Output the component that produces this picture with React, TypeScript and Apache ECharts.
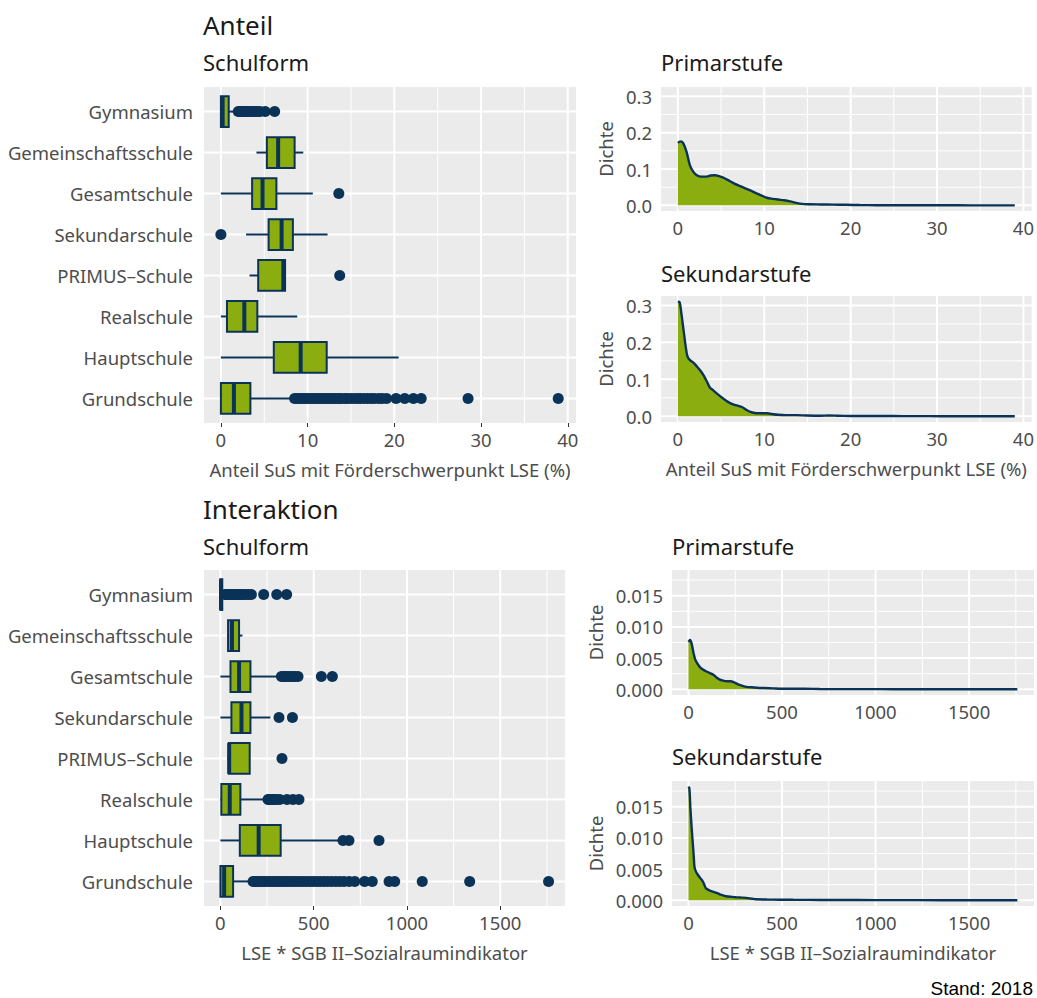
import React, { useEffect, useRef } from 'react';
import * as echarts from 'echarts';

const GREEN = '#8CAD10';
const NAVY = '#0B3358';
const PANEL = '#EBEBEB';
const LABEL = '#4D4D4D';
const FONT = "'Noto Sans', sans-serif";

// ---------- data ----------
const categories = ['Gymnasium', 'Gemeinschaftsschule', 'Gesamtschule', 'Sekundarschule', 'PRIMUS–Schule', 'Realschule', 'Hauptschule', 'Grundschule'];

// [lower whisker, Q1, median, Q3, upper whisker]  (Anteil, %)
const anteilBoxStats = [
  [0, 0, 0.2, 0.9, 1.7],
  [4.1, 5.3, 6.6, 8.5, 9.5],
  [0, 3.6, 4.8, 6.4, 10.6],
  [2.9, 5.5, 7.0, 8.3, 12.3],
  [3.3, 4.3, 7.2, 7.4, 7.4],
  [0, 0.7, 2.7, 4.2, 8.8],
  [0, 6.1, 9.2, 12.2, 20.5],
  [0, 0, 1.5, 3.4, 8.0],
];
const anteilOutliers = [
  [2.0, 2.2, 2.4, 2.6, 2.8, 3.0, 3.2, 3.4, 3.7, 3.9, 4.2, 4.5, 5.1, 6.2],
  [],
  [13.6],
  [0],
  [13.7],
  [],
  [],
  [8.5, 8.8, 9.1, 9.4, 9.7, 10.0, 10.3, 10.6, 10.9, 11.2, 11.5, 11.8, 12.1, 12.4, 12.7, 13.0, 13.3, 13.6, 13.9, 14.3, 14.6, 15.0, 15.4, 15.8, 16.1, 16.5, 16.9, 17.3, 17.7, 18.2, 18.6, 19.1, 20.2, 21.2, 22.2, 23.1, 28.5, 38.9],
];

// Interaktion: LSE * SGB II-Sozialraumindikator
const interBoxStats = [
  [0, 0, 3, 10, 24],
  [36, 41, 62, 100, 118],
  [0, 54, 100, 161, 318],
  [0, 59, 113, 161, 268],
  [36, 45, 47, 157, 157],
  [0, 5, 50, 107, 246],
  [0, 104, 205, 323, 639],
  [0, 0, 20, 68, 157],
];
const interOutliers = [
  [25, 32, 40, 48, 56, 64, 72, 80, 90, 100, 110, 122, 135, 150, 166, 232, 302, 355],
  [],
  [327, 338, 350, 362, 375, 388, 400, 416, 541, 600],
  [314, 386],
  [330],
  [255, 262, 270, 280, 290, 300, 318, 357, 389, 421],
  [657, 689, 850],
  [175, 186, 198, 210, 222, 236, 250, 264, 278, 292, 306, 320, 335, 350, 365, 380, 396, 412, 428, 445, 462, 480, 498, 516, 535, 555, 575, 596, 618, 640, 662, 690, 720, 773, 814, 904, 934, 1082, 1336, 1759],
];

// density curves [x, density]
const densAnteilPrimar = [[0, 0.172], [0.3, 0.176], [0.6, 0.172], [1.0, 0.148], [1.4, 0.11], [1.8, 0.092], [2.2, 0.083], [2.7, 0.079], [3.2, 0.079], [3.8, 0.082], [4.3, 0.083], [4.8, 0.08], [5.3, 0.076], [6.0, 0.067], [6.6, 0.059], [7.2, 0.053], [7.8, 0.047], [8.5, 0.04], [9.1, 0.033], [9.7, 0.027], [10.3, 0.021], [11.0, 0.018], [11.6, 0.016], [12.3, 0.014], [13.0, 0.011], [13.7, 0.007], [14.4, 0.004], [15.2, 0.003], [16.5, 0.0025], [18, 0.002], [19.5, 0.0015], [21, 0.0008], [23, 0.0005], [25, 0.0003], [28, 0.0003], [31, 0.0002], [34, 0.0001], [37, 0.0001], [39, 0.0001]];
const densAnteilSek = [[0, 0.31], [0.2, 0.309], [0.4, 0.28], [0.65, 0.235], [0.9, 0.19], [1.1, 0.163], [1.4, 0.152], [1.8, 0.145], [2.2, 0.135], [2.6, 0.124], [3.0, 0.11], [3.4, 0.092], [3.7, 0.078], [4.1, 0.07], [4.6, 0.06], [5.2, 0.049], [5.8, 0.039], [6.4, 0.032], [7.0, 0.028], [7.4, 0.025], [7.9, 0.018], [8.4, 0.012], [8.9, 0.009], [9.5, 0.008], [10.3, 0.008], [10.9, 0.006], [11.6, 0.004], [12.5, 0.003], [13.7, 0.003], [15, 0.002], [16.5, 0.0015], [17.5, 0.002], [18.5, 0.0015], [20, 0.0008], [22, 0.0006], [24, 0.0008], [26, 0.0004], [29, 0.0003], [32, 0.0002], [35, 0.0001], [39, 0.0001]];
const densInterPrimar = [[0, 0.0076], [9, 0.0079], [18, 0.0072], [27, 0.0058], [36, 0.0048], [48, 0.0041], [60, 0.0036], [75, 0.0032], [94, 0.0029], [115, 0.0026], [135, 0.0023], [150, 0.0019], [165, 0.0016], [185, 0.0014], [205, 0.0013], [225, 0.0013], [245, 0.0011], [265, 0.0008], [285, 0.0006], [310, 0.0004], [350, 0.0003], [400, 0.0002], [450, 0.00015], [500, 0.0001], [560, 0.00008], [620, 0.0001], [700, 0.00005], [800, 0.00003], [950, 0.00003], [1100, 0.00002], [1350, 0.00002], [1550, 0.00001], [1758, 0.00001]];
const densInterSek = [[0, 0.0182], [5, 0.0179], [10, 0.015], [14, 0.013], [19, 0.0108], [23, 0.0092], [28, 0.0072], [32, 0.0054], [40, 0.0046], [50, 0.0041], [62, 0.0036], [77, 0.003], [86, 0.0024], [94, 0.0019], [112, 0.0016], [130, 0.0014], [150, 0.0012], [165, 0.001], [185, 0.0008], [201, 0.00065], [230, 0.00055], [254, 0.0005], [280, 0.00045], [308, 0.0004], [340, 0.00025], [361, 0.00016], [420, 0.00012], [486, 0.0001], [560, 0.00008], [650, 0.00007], [750, 0.00005], [900, 0.00004], [1100, 0.00003], [1350, 0.00002], [1600, 0.00001], [1758, 0.00001]];

// ticks
const anteilXMajor = [0, 10, 20, 30, 40];
const anteilXMinor = [5, 15, 25, 35];
const interXMajor = [0, 500, 1000, 1500];
const interXMinor = [250, 750, 1250, 1750];
const densAnteilYMajor = [0, 0.1, 0.2, 0.3];
const densAnteilYMinor = [0.05, 0.15, 0.25];
const densInterYMajor = [0, 0.005, 0.01, 0.015];
const densInterYMinor = [0.0025, 0.0075, 0.0125, 0.0175];
const catPositions = categories.map((_, i) => i + 1);

const X_TITLE_ANTEIL = 'Anteil SuS mit Förderschwerpunkt LSE (%)';
const X_TITLE_INTER = 'LSE * SGB II–Sozialraumindikator';

function expand(lo: number, hi: number) {
  const p = (hi - lo) * 0.05;
  return [lo - p, hi + p];
}

export default function App() {
  const ref = useRef<HTMLDivElement>(null);
  useEffect(() => {
    document.body.style.margin = '0';
    const chart = echarts.init(ref.current!, null, { renderer: 'svg' });

    const allAnteil = anteilBoxStats.flat().concat(anteilOutliers.flat()).concat(densAnteilPrimar.map(d => d[0]));
    const [axMin, axMax] = expand(Math.min(...allAnteil), Math.max(...allAnteil));
    const allInter = interBoxStats.flat().concat(interOutliers.flat());
    const [ixMin, ixMax] = expand(Math.min(...allInter), Math.max(...allInter));
    const [adMin, adMax] = expand(0, Math.max(...densAnteilPrimar.map(d => d[1]), ...densAnteilSek.map(d => d[1])));
    const [idMin, idMax] = expand(0, Math.max(...densInterPrimar.map(d => d[1]), ...densInterSek.map(d => d[1])));

    const grids = [
      { left: 204, top: 87, width: 372, height: 336 },
      { left: 661, top: 87, width: 373, height: 124 },
      { left: 661, top: 296, width: 373, height: 126 },
      { left: 204, top: 570, width: 361, height: 336 },
      { left: 672, top: 570, width: 362, height: 125 },
      { left: 672, top: 781, width: 362, height: 125 },
    ].map(g => ({ ...g, show: true, backgroundColor: PANEL, borderWidth: 0, containLabel: false }));

    const tick = { show: true, length: 4, lineStyle: { color: '#333', width: 1 } };
    const label = { color: LABEL, fontSize: 18.5, fontFamily: FONT };
    const nameStyle = { color: LABEL, fontSize: 18.5, fontFamily: FONT };

    const xAxis = (gi: number, min: number, max: number, ticks: number[], name?: string) => ({
      gridIndex: gi, type: 'value', min, max,
      axisLine: { show: false }, splitLine: { show: false },
      axisTick: { ...tick, customValues: ticks },
      axisLabel: { ...label, margin: 7, customValues: ticks, formatter: (v: number) => String(v) },
      name: name || '', nameLocation: 'middle', nameGap: 37, nameTextStyle: nameStyle,
    });
    const yCat = (gi: number) => ({
      gridIndex: gi, type: 'value', min: 0.4, max: categories.length + 0.6, inverse: true,
      axisLine: { show: false }, splitLine: { show: false },
      axisTick: { ...tick, customValues: catPositions },
      axisLabel: { ...label, margin: 11, customValues: catPositions, formatter: (v: number) => categories[Math.round(v) - 1] },
    });
    const yDens = (gi: number, min: number, max: number, ticks: number[], digits: number, gap: number) => ({
      gridIndex: gi, type: 'value', min, max,
      axisLine: { show: false }, splitLine: { show: false },
      axisTick: { ...tick, customValues: ticks },
      axisLabel: { ...label, margin: 9, customValues: ticks, formatter: (v: number) => v.toFixed(digits) },
      name: 'Dichte', nameLocation: 'middle', nameGap: gap, nameTextStyle: nameStyle,
    });

    const gridLines = (gi: number, xMaj: number[], xMin: number[], yMaj: number[], yMin: number[]) => ({
      type: 'custom', xAxisIndex: gi, yAxisIndex: gi, z: 1, silent: true,
      data: [
        ...xMin.map(v => [v, 0, 0]), ...yMin.map(v => [v, 1, 0]),
        ...xMaj.map(v => [v, 0, 1]), ...yMaj.map(v => [v, 1, 1]),
      ],
      encode: { x: 0, y: 1 },
      renderItem: (params: any, api: any) => {
        const v = api.value(0), dir = api.value(1), major = api.value(2);
        const cs = params.coordSys;
        const style = { stroke: '#FFFFFF', lineWidth: major ? 2 : 1 };
        if (dir === 0) {
          const x = api.coord([v, 0])[0];
          return { type: 'line', shape: { x1: x, y1: cs.y, x2: x, y2: cs.y + cs.height }, style };
        }
        const y = api.coord([0, v])[1];
        return { type: 'line', shape: { x1: cs.x, y1: y, x2: cs.x + cs.width, y2: y }, style };
      },
    });

    const boxSeries = (gi: number, stats: number[][]) => ({
      type: 'custom', xAxisIndex: gi, yAxisIndex: gi, z: 3,
      data: stats.map((s, i) => [...s, i + 1]),
      encode: { x: [0, 1, 2, 3, 4], y: 5 },
      renderItem: (params: any, api: any) => {
        const idx = api.value(5);
        const pLow = api.coord([api.value(0), idx]);
        const pQ1 = api.coord([api.value(1), idx]);
        const pMed = api.coord([api.value(2), idx]);
        const pQ3 = api.coord([api.value(3), idx]);
        const pHigh = api.coord([api.value(4), idx]);
        const h = api.size([0, 0.75])[1];
        const y = pLow[1];
        const ls = { stroke: NAVY, lineWidth: 2 };
        return {
          type: 'group',
          children: [
            { type: 'line', shape: { x1: pLow[0], y1: y, x2: pQ1[0], y2: y }, style: ls },
            { type: 'line', shape: { x1: pQ3[0], y1: y, x2: pHigh[0], y2: y }, style: ls },
            { type: 'rect', shape: { x: pQ1[0], y: y - h / 2, width: pQ3[0] - pQ1[0], height: h }, style: { fill: GREEN, stroke: NAVY, lineWidth: 2 } },
            { type: 'line', shape: { x1: pMed[0], y1: y - h / 2, x2: pMed[0], y2: y + h / 2 }, style: { stroke: NAVY, lineWidth: 4 } },
          ],
        };
      },
    });

    const outlierSeries = (gi: number, outs: number[][]) => ({
      type: 'scatter', xAxisIndex: gi, yAxisIndex: gi, z: 4,
      symbolSize: 11, itemStyle: { color: NAVY, opacity: 1 },
      data: outs.flatMap((arr, i) => arr.map(v => [v, i + 1])),
    });

    const densSeries = (gi: number, data: number[][]) => ({
      type: 'line', xAxisIndex: gi, yAxisIndex: gi, z: 3,
      data, showSymbol: false, smooth: 0.3,
      lineStyle: { color: NAVY, width: 2.4 },
      areaStyle: { color: GREEN, opacity: 1 },
    });

    const txt = (text: string, x: number, y: number, size: number, extra: any = {}) => ({
      type: 'text', x, y,
      style: { text, fontSize: size, fontFamily: FONT, fill: '#1A1A1A', verticalAlign: 'middle', align: 'left', ...extra },
    });

    chart.setOption({
      animation: false,
      backgroundColor: '#FFFFFF',
      grid: grids,
      xAxis: [
        xAxis(0, axMin, axMax, anteilXMajor, X_TITLE_ANTEIL),
        xAxis(1, axMin, axMax, anteilXMajor),
        xAxis(2, axMin, axMax, anteilXMajor, X_TITLE_ANTEIL),
        xAxis(3, ixMin, ixMax, interXMajor, X_TITLE_INTER),
        xAxis(4, ixMin, ixMax, interXMajor),
        xAxis(5, ixMin, ixMax, interXMajor, X_TITLE_INTER),
      ],
      yAxis: [
        yCat(0),
        yDens(1, adMin, adMax, densAnteilYMajor, 1, 46),
        yDens(2, adMin, adMax, densAnteilYMajor, 1, 46),
        yCat(3),
        yDens(4, idMin, idMax, densInterYMajor, 3, 67),
        yDens(5, idMin, idMax, densInterYMajor, 3, 67),
      ],
      series: [
        gridLines(0, anteilXMajor, anteilXMinor, catPositions, []),
        gridLines(1, anteilXMajor, anteilXMinor, densAnteilYMajor, densAnteilYMinor),
        gridLines(2, anteilXMajor, anteilXMinor, densAnteilYMajor, densAnteilYMinor),
        gridLines(3, interXMajor, interXMinor, catPositions, []),
        gridLines(4, interXMajor, interXMinor, densInterYMajor, densInterYMinor),
        gridLines(5, interXMajor, interXMinor, densInterYMajor, densInterYMinor),
        boxSeries(0, anteilBoxStats),
        outlierSeries(0, anteilOutliers),
        boxSeries(3, interBoxStats),
        outlierSeries(3, interOutliers),
        densSeries(1, densAnteilPrimar),
        densSeries(2, densAnteilSek),
        densSeries(4, densInterPrimar),
        densSeries(5, densInterSek),
      ],
      graphic: [
        txt('Anteil', 203, 25, 26),
        txt('Schulform', 203, 62, 22),
        txt('Primarstufe', 661, 62, 22),
        txt('Sekundarstufe', 661, 273, 22),
        txt('Interaktion', 203, 509, 26),
        txt('Schulform', 203, 546, 22),
        txt('Primarstufe', 672, 546, 22),
        txt('Sekundarstufe', 672, 756, 22),
        txt('Stand: 2018', 1033, 988, 19, { align: 'right', fontFamily: "'Liberation Sans', Arial, sans-serif", fill: '#000000' }),
      ],
    });
    return () => chart.dispose();
  }, []);
  return <div ref={ref} style={{ width: 1037, height: 998 }} />;
}
